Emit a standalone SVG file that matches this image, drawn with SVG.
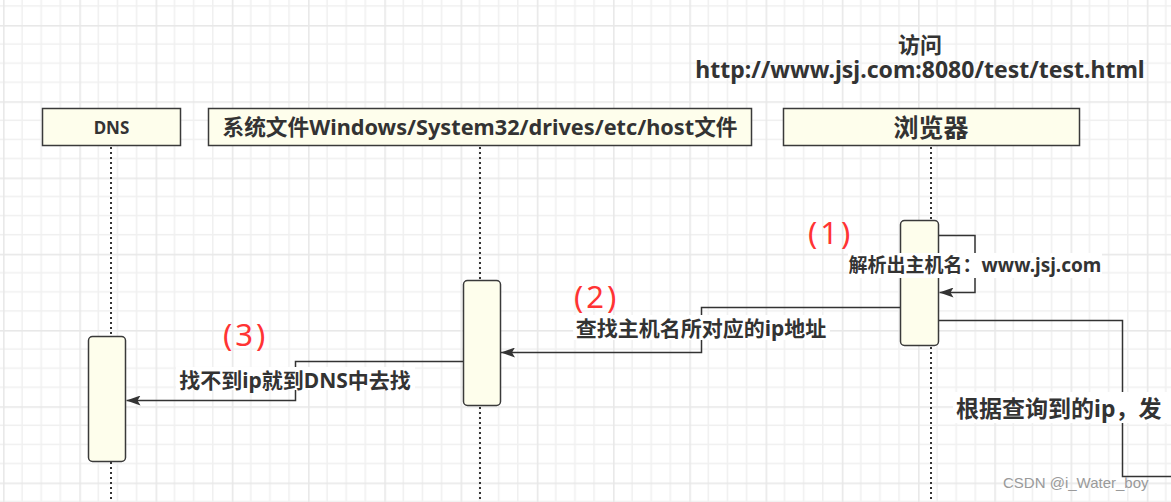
<svg xmlns="http://www.w3.org/2000/svg" width="1171" height="502" viewBox="0 0 1171 502">
  <style>
    .t { font-family: "Noto Sans", "Noto Sans CJK SC", sans-serif; font-weight: bold; fill: #333333; }
    .box { fill: #fefeec; stroke: #3a3a3a; stroke-width: 1.5; }
    .act { fill: #fefeec; stroke: #3a3a3a; stroke-width: 1.5; }
    .life { fill: none; stroke: #333333; stroke-width: 2; stroke-dasharray: 2 3; }
    .conn { fill: none; stroke: #333333; stroke-width: 1.5; marker-end: url(#arr); }
    .conn2 { fill: none; stroke: #333333; stroke-width: 1.5; }
    .lbg { fill: #ffffff; }
    .red { font-family: "Noto Sans", "Liberation Sans", sans-serif; font-size: 31px; fill: #ff3333; letter-spacing: 3px; }
  </style>
  <defs>
    <pattern id="grid" x="79.3" y="25" width="76.25" height="76.25" patternUnits="userSpaceOnUse">
      <path d="M19.06 0V76.25M38.12 0V76.25M57.19 0V76.25M0 19.06H76.25M0 38.12H76.25M0 57.19H76.25" stroke="#f0f0f0" stroke-width="1.5" fill="none"/>
      <rect x="0" y="0" width="1.6" height="76.25" fill="#e8e8e8"/>
      <rect x="0" y="0" width="76.25" height="1.6" fill="#e8e8e8"/>
    </pattern>
    <marker id="arr" viewBox="0 0 14 10" refX="14" refY="5" markerWidth="14" markerHeight="10" markerUnits="userSpaceOnUse" orient="auto">
      <path d="M0,0 L14,5 L0,10 L3,5 z" fill="#333333"/>
    </marker>
  </defs>

  <rect x="0" y="0" width="1171" height="502" fill="#ffffff"/>
  <rect x="0" y="0" width="1171" height="502" fill="url(#grid)"/>

  <g id="title">
    <text class="t" x="920" y="53" font-size="22" text-anchor="middle">访问</text>
    <text class="t" x="920" y="78" font-size="23" text-anchor="middle">http://www.jsj.com:8080/test/test.html</text>
  </g>

  <g id="lifelines">
    <path class="life" d="M111 147V502"/>
    <path class="life" d="M480 147V502"/>
    <path class="life" d="M931 147V502"/>
  </g>

  <g id="node-dns">
    <rect class="box" x="42.5" y="108.5" width="138" height="37"/>
    <text class="t" x="111.5" y="134" font-size="17" text-anchor="middle">DNS</text>
  </g>
  <g id="node-host">
    <rect class="box" x="208.5" y="108.5" width="543" height="37"/>
    <text class="t" x="480" y="135" font-size="21.7" text-anchor="middle">系统文件Windows/System32/drives/etc/host文件</text>
  </g>
  <g id="node-browser">
    <rect class="box" x="783.5" y="108.5" width="296" height="37"/>
    <text class="t" x="931" y="137" font-size="25" text-anchor="middle">浏览器</text>
  </g>

  <g id="act-browser">
    <rect class="act" x="900.5" y="220.5" width="38" height="125" rx="4"/>
  </g>
  <g id="act-host">
    <rect class="act" x="463.5" y="280.5" width="37" height="125" rx="4"/>
  </g>
  <g id="act-dns">
    <rect class="act" x="88.5" y="336.5" width="37" height="125" rx="4"/>
  </g>

  <g id="connectors">
    <path class="conn" d="M939 235.5H975V292.5H939.5"/>
    <path class="conn" d="M900 307.5H701.5V352.5H501"/>
    <path class="conn" d="M463 361.5H295.5V400.5H126.5"/>
    <path class="conn2" d="M939 320.5H1122.5V476.5H1171"/>
  </g>

  <g id="labels">
    <rect class="lbg" x="848" y="253" width="254" height="25"/>
    <text class="t" x="975" y="272" font-size="19" text-anchor="middle">解析出主机名：www.jsj.com</text>
    <rect class="lbg" x="573" y="315" width="257" height="25"/>
    <text class="t" x="701" y="336" font-size="21" text-anchor="middle">查找主机名所对应的ip地址</text>
    <rect class="lbg" x="176" y="367" width="239" height="23"/>
    <text class="t" x="295" y="388" font-size="21" text-anchor="middle">找不到ip就到DNS中去找</text>
    <rect class="lbg" x="953" y="392" width="218" height="31"/>
    <text class="t" x="956" y="417" font-size="23">根据查询到的ip，发</text>
  </g>

  <g id="steps">
    <text class="red" x="808" y="244">(1)</text>
    <text class="red" x="574" y="308">(2)</text>
    <text class="red" x="223" y="346">(3)</text>
  </g>

  <text x="1003" y="488" font-family="Liberation Sans, sans-serif" font-size="15" fill="#9a9a9a">CSDN @i_Water_boy</text>
</svg>
